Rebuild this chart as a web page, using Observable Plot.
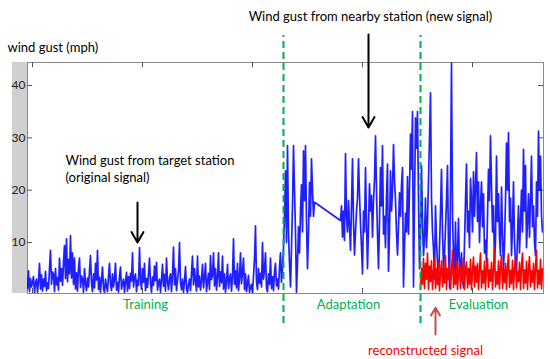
<!DOCTYPE html>
<html><head><meta charset="utf-8">
<script src="https://cdn.jsdelivr.net/npm/d3@7"></script>
<script src="https://cdn.jsdelivr.net/npm/@observablehq/plot@0.6"></script>
<style>
html,body{margin:0;padding:0;background:#fff;}
#chart svg{display:block;}
</style></head>
<body><div id="chart"></div>
<script>
// ---- data (wind gust, mph); one sample per time step ----
const trainingStart = 0;
const trainingGust = [
1.2,4.6,0.6,3.1,1.5,2.4,3.5,0.4,2.2,3.0,
0.5,2.6,6.0,1.1,3.8,0.7,3.0,1.6,4.5,0.8,
2.3,1.2,5.1,8.5,2.0,4.4,4.0,0.6,5.0,1.9,
3.3,0.9,7.0,2.6,5.0,1.8,6.2,9.4,3.1,10.7,
2.5,6.8,4.0,11.3,3.2,8.0,2.0,7.0,1.1,4.2,
0.7,5.1,7.0,1.4,3.6,3.0,0.5,5.0,2.1,0.8,
3.2,1.5,4.6,7.5,2.2,0.6,4.0,1.3,6.0,2.8,
8.5,1.0,3.4,0.5,2.9,5.3,1.2,0.4,3.0,1.6,
0.6,3.5,6.0,2.0,0.8,4.0,1.5,3.2,6.0,0.9,
2.4,0.5,3.6,5.3,1.1,2.2,3.0,0.4,2.5,4.3,
0.7,3.5,1.2,4.1,2.6,8.0,1.5,3.3,4.0,0.6,
2.8,1.8,9.0,3.0,1.1,5.0,2.4,6.0,0.8,3.1,
1.4,4.0,7.0,2.2,0.5,3.4,1.8,5.5,2.7,6.2,
0.9,2.3,3.0,0.5,2.8,5.8,1.6,3.9,0.7,7.0,
2.5,1.0,3.2,4.0,0.6,3.8,9.1,1.9,5.0,0.8,
2.7,4.6,10.0,2.2,1.0,3.0,0.5,2.6,5.4,1.2,
0.4,2.1,3.0,0.8,4.2,7.4,1.9,5.0,2.6,0.7,
7.4,1.5,3.6,0.9,2.8,5.8,1.3,3.2,6.0,0.6,
2.4,4.1,1.0,7.5,2.9,3.8,8.0,1.7,5.0,0.9,
3.3,8.0,1.6,4.4,2.3,7.4,1.1,4.0,0.5,2.6,
5.8,1.2,3.1,4.0,0.7,3.5,10.7,2.0,4.6,1.3,
6.0,0.8,3.2,8.0,2.1,4.4,7.0,1.0,4.0,0.6,
2.2,3.7,0.5,1.4,2.0,0.4,3.6,6.8,13.2,2.5,
1.0,5.0,2.2,4.1,1.5,10.0,3.0,4.8,8.0,1.3,
0.6,4.0,2.0,7.0,1.2,3.5,0.8,4.4,6.0,1.7,
3.0,1.1,5.2,8.0,2.4,5.0
];
const adaptAStart = 256;
const adaptAGust = [
9,15,23.7,10,28.5,12,6,1.5,9,17,28.5,20,12,0.5,6,13,8,16,21,12,27.5,18,28.5,14,5,12,21.5,15,26,20,15,17.7
];
const adaptBStart = 313;
const adaptBGust = [
14.2,17,11,16,10.4,27,15,12,18,13,8.5,17,26,14,7.6,12,16,18.5,26,19,
13.6,9,4,16,12,24.3,14,5,13,21.2,16,19,11,18,22,30.4,20,11.6,5,14,
24.3,17,28.5,11.6,15,9,19,25,4.5,12,23.7,16,20,28.7,22,18,12,7.6,13,19.5,
15,21,24.3,1.5,9,15.6,12,22.6,11.6,20,30.7,24,35,1.5,18,33.8,28,35,18,5
];
const evalStart = 393;
const evalGust = [
12,24.7,14,7.5,11,18.5,9,13.9,22,30,38.6,18.5,12,8.8,3,17,10,6.2,2,9,
16,24,12,5,8,12.6,18,24.7,9,1.3,20,44.3,15.2,7.5,3,13.9,2.5,8,14.6,4,
5.7,8,3,1.3,10,18,25,12,16,9,22.2,18,12,23.5,15,20.6,27.2,14,21.6,10,
17,21.6,13,19.3,8,10.4,6.2,15,24,18,30.4,21,12,17,6,10.4,26.5,14,19.3,11,
7.5,20.6,12,5,9.6,18,29,20,31,14,18.5,7.5,13,21.6,10,6,4.5,11,17,8,
13.9,20,12,27.8,16,24.7,9,14,19.3,11,18,26.5,13,17,10,7.5,21.6,15,31.3,20,
26.5,15.2,12
];
const reconstructedGust = [
1,5,2,7,1.2,6,3,8,1,5.5,2.5,6.5,1,4.5,7,1.2,5,2,6,0.8,
4,6.5,1.5,5,2.2,7.5,1,5,3,6,1,4.5,8.5,1.4,5,2,6.5,1,4,6,
1.2,5.5,2.5,7,1,4.8,6.3,1.3,5,2,6.8,1,4.5,7.2,1.5,5.5,2.4,6,1,5,
8,1.3,4.6,2.2,6.4,1,5.2,7,1.4,4.8,2.6,6.2,1,5,9,1.5,4.4,2,6.5,1.1,
5.3,7.5,1.2,4.9,2.3,6,1,5.4,7.8,1.4,4.7,2.1,6.6,1,5,7,1.3,4.5,2.5,6.2,
1,5.6,8,1.2,4.8,2.2,6.4,1,5,7.3,1.5,4.6,2.4,6,1,5.2,8.5,1.3,4.7,2,
6.8,1.1,5
];
const yTicks = [10, 20, 30, 40];
const xTicks = [5, 115, 225, 335, 445];
const phaseBoundaries = [256, 393];
const phaseLabels = ["Training", "Adaptation", "Evaluation"];

// ---- build tables ----
const toRows = (start, arr) => arr.map((v, i) => ({t: start + i, v}));
const blue = [
  ...toRows(trainingStart, trainingGust),
  ...toRows(adaptAStart, adaptAGust),
  ...toRows(adaptBStart, adaptBGust),
  ...toRows(evalStart, evalGust)
];
const red = toRows(evalStart, reconstructedGust);

const green = "#00b050";
const font = "Lato, 'Open Sans', sans-serif";

const phaseText = [
  {t: 118, label: phaseLabels[0]},
  {t: 321, label: phaseLabels[1]},
  {t: 451, label: phaseLabels[2]}
];

const chart = Plot.plot({
  width: 550,
  height: 359,
  marginLeft: 27,
  marginRight: 7,
  marginTop: 62,
  marginBottom: 66,
  style: {fontFamily: font, background: "#fff", overflow: "visible"},
  x: {domain: [0, 516], axis: null},
  y: {domain: [0.25, 44.4], axis: null},
  marks: [
    Plot.rect([0], {x1: -15, x2: 0, y1: 0.25, y2: 44.4, fill: "#d0d0d0"}),
    Plot.frame({stroke: "#8a8a8a"}),
    Plot.ruleY(yTicks, {x1: 0, x2: 5, stroke: "#555"}),
    Plot.ruleY(yTicks, {x1: 511, x2: 516, stroke: "#555"}),
    Plot.ruleX(xTicks, {y1: 44.4, y2: 43.4, stroke: "#555"}),
    Plot.ruleX(xTicks, {y1: 0.25, y2: 1.2, stroke: "#555"}),
    Plot.axisY(yTicks, {tickSize: 0, tickPadding: 2, fontSize: 12, fill: "#222", fontFamily: font, label: null}),
    Plot.line(blue, {x: "t", y: "v", stroke: "#0000ff", strokeWidth: 1.7, strokeOpacity: 0.88, clip: true}),
    Plot.line(red, {x: "t", y: "v", stroke: "#ff0000", strokeWidth: 1.6, clip: true}),
    Plot.ruleX(phaseBoundaries, {y1: -5.48, y2: 49.56, stroke: green, strokeWidth: 2, strokeDasharray: "7,4"}),
    Plot.arrow([0], {x1: 341, y1: 49.75, x2: 341, y2: 31.98, stroke: "#000", strokeWidth: 2, headLength: 9}),
    Plot.arrow([0], {x1: 110, y1: 17.64, x2: 110, y2: 10.0, stroke: "#000", strokeWidth: 2, headLength: 9}),
    Plot.arrow([0], {x1: 408, y1: -7.6, x2: 408, y2: -2.45, stroke: "#c0504d", strokeWidth: 2, headLength: 8}),
    Plot.text(["wind gust (mph)"], {x: -20, y: 47.27, text: d => d, textAnchor: "start", fontSize: 13, fill: "#000"}),
    Plot.text(["Wind gust from nearby station (new signal)"], {x: 343, y: 53.2, text: d => d, fontSize: 13, fill: "#000"}),
    Plot.text(["Wind gust from target station"], {x: 38, y: 25.67, text: d => d, textAnchor: "start", fontSize: 13, fill: "#000"}),
    Plot.text(["(original signal)"], {x: 38, y: 22.42, text: d => d, textAnchor: "start", fontSize: 13, fill: "#000"}),
    Plot.text(phaseText, {x: "t", y: -1.95, text: "label", fontSize: 13, fill: green}),
    Plot.text(["reconstructed signal"], {x: 398, y: -10.64, text: d => d, fontSize: 13, fill: "#ff0000"})
  ]
});
document.getElementById("chart").appendChild(chart);
</script>
</body></html>
